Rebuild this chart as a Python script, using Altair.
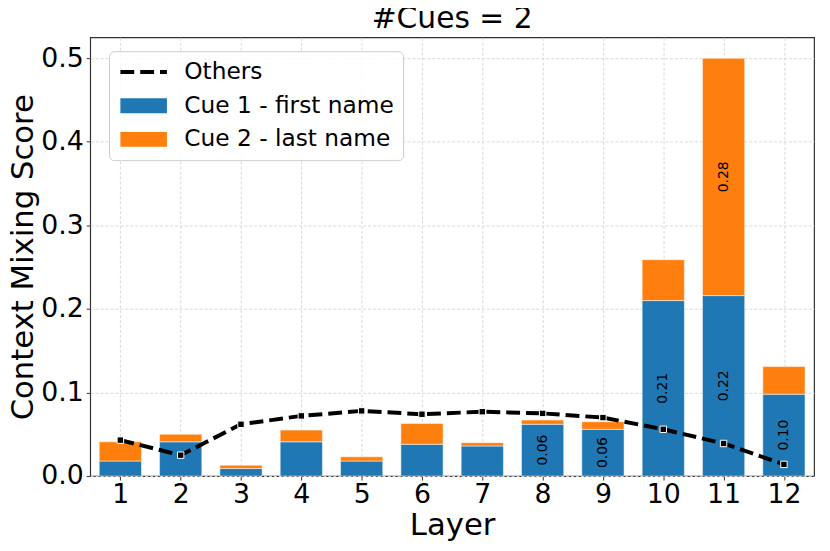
import altair as alt
import pandas as pd

layers = [1, 2, 3, 4, 5, 6, 7, 8, 9, 10, 11, 12]
cue1 = [0.018, 0.041, 0.009, 0.041, 0.018, 0.038, 0.036, 0.062, 0.056, 0.210, 0.216, 0.098]
cue2 = [0.023, 0.009, 0.004, 0.014, 0.005, 0.025, 0.004, 0.005, 0.009, 0.049, 0.284, 0.033]
others = [0.043, 0.025, 0.062, 0.072, 0.078, 0.074, 0.077, 0.075, 0.070, 0.056, 0.039, 0.014]

series_names = ["Others", "Cue 1 - first name", "Cue 2 - last name"]
series_colors = ["black", "#1f77b4", "#ff7f0e"]
bar_half_width = 0.35
label_threshold = 0.05

rows = []
for l, a, b in zip(layers, cue1, cue2):
    rows.append({"layer": l, "series": series_names[1], "y0": 0.0, "y1": a, "value": a})
    rows.append({"layer": l, "series": series_names[2], "y0": a, "y1": a + b, "value": b})
bars_df = pd.DataFrame(rows)
others_df = pd.DataFrame({"layer": layers, "others": others, "series": series_names[0]})

FONT = "DejaVu Sans"

x_scale = alt.Scale(domain=[0.5, 12.5], nice=False, zero=False)
y_scale = alt.Scale(domain=[0, 0.525], nice=False)

x_axis = alt.Axis(values=layers, format="d", title="Layer", grid=True,
                  labelFontSize=27, titleFontSize=31, tickSize=4, labelPadding=2,
                  titlePadding=3)
y_axis = alt.Axis(values=[0, 0.1, 0.2, 0.3, 0.4, 0.5], format=".1f",
                  title="Context Mixing Score", grid=True,
                  labelFontSize=27, titleFontSize=31, tickSize=4, labelPadding=3,
                  titlePadding=1)

legend = alt.Legend(
    title=None, orient="none", legendX=19, legendY=14,
    labelFontSize=23.5, labelFont=FONT, labelOffset=10, labelColor="black", labelLimit=500,
    symbolType="stroke", symbolSize=2209, symbolOffset=-5,
    clipHeight=24, rowPadding=10, padding=9,
    fillColor="rgba(255,255,255,0.85)", strokeColor="#cccccc", cornerRadius=5,
)

base = alt.Chart(bars_df).transform_calculate(
    x0=f"datum.layer - {bar_half_width}",
    x1=f"datum.layer + {bar_half_width}",
    mid="(datum.y0 + datum.y1) / 2",
)

bars = base.mark_bar(stroke="white", strokeWidth=1, strokeOpacity=0.5).encode(
    x=alt.X("x0:Q", scale=x_scale, axis=x_axis),
    x2="x1:Q",
    y=alt.Y("y1:Q", scale=y_scale, axis=y_axis),
    y2="y0:Q",
    fill=alt.Fill("series:N", scale=alt.Scale(domain=series_names[1:], range=series_colors[1:]),
                  legend=None),
)

labels = base.transform_filter(f"datum.value >= {label_threshold}").mark_text(
    angle=270, fontSize=14, font=FONT, color="black", baseline="middle", align="center"
).encode(
    x=alt.X("layer:Q", scale=x_scale),
    y=alt.Y("mid:Q", scale=y_scale),
    text=alt.Text("value:Q", format=".2f"),
)

line = alt.Chart(others_df).mark_line().encode(
    x=alt.X("layer:Q", scale=x_scale),
    y=alt.Y("others:Q", scale=y_scale),
    color=alt.Color("series:N", scale=alt.Scale(domain=series_names, range=series_colors),
                    legend=legend),
    strokeDash=alt.StrokeDash("series:N", scale=alt.Scale(domain=series_names,
                              range=[[14, 6], [1, 0], [1, 0]]), legend=legend),
    strokeWidth=alt.StrokeWidth("series:N", scale=alt.Scale(type="ordinal", domain=series_names,
                                range=[4, 15, 15]), legend=legend),
)

points = alt.Chart(others_df).mark_point(shape="square", filled=True, size=42, fill="black",
                                         stroke="white", strokeWidth=1, opacity=1).encode(
    x=alt.X("layer:Q", scale=x_scale),
    y=alt.Y("others:Q", scale=y_scale),
)

chart = alt.layer(bars, line, points, labels).properties(
    width=731, height=443,
    title=alt.Title("#Cues = 2", fontSize=30, font=FONT, fontWeight="normal", offset=6, dy=3),
    autosize=alt.AutoSizeParams(type="none"),
    padding={"left": 83, "top": 27, "right": 8, "bottom": 73},
).configure_axis(
    labelFont=FONT, titleFont=FONT, labelColor="black", titleColor="black",
    titleFontWeight="normal", gridColor="#d9d9d9", gridDash=[3, 2], gridWidth=1,
    domain=False, tickColor="#333333", tickWidth=1,
).configure_view(
    stroke="#333333", strokeWidth=1.2,
)

chart.save("out.html", embed_options={"renderer": "svg", "actions": False})
